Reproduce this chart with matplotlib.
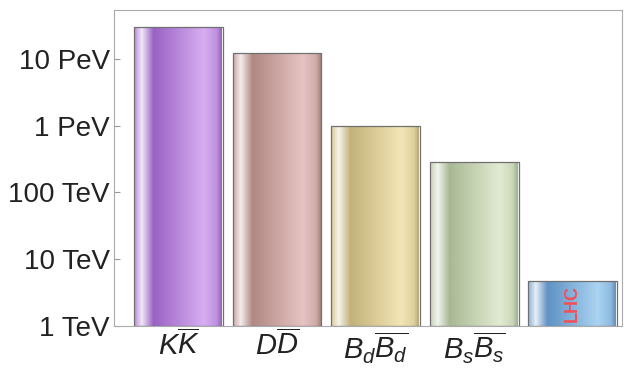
import numpy as np
import matplotlib
matplotlib.use("Agg")
import matplotlib.pyplot as plt
from matplotlib.colors import LinearSegmentedColormap

plt.rcParams['font.family'] = ['Liberation Sans', 'DejaVu Sans']
plt.rcParams['mathtext.fontset'] = 'custom'
plt.rcParams['mathtext.it'] = 'Liberation Sans:italic'
plt.rcParams['mathtext.rm'] = 'Liberation Sans'

# Data (scale in TeV)
labels = [r'$K\overline{K}$', r'$D\overline{D}$', r'$B_d\overline{B_d}$', r'$B_s\overline{B_s}$', '']
scales = [30000, 12300, 1000, 290, 4.8]
ytick_vals = [1, 10, 100, 1000, 10000]
ytick_labels = ['1 TeV', '10 TeV', '100 TeV', '1 PeV', '10 PeV']

# dark / light shades per bar
dark = ['#9a62c4', '#b08883', '#c2b27a', '#a9b894', '#5f93c4']
light = ['#d7aef2', '#e6c4c3', '#f3e6b6', '#e2ebd2', '#abd3f2']

def shade(c1, c2):
    c1 = np.array(matplotlib.colors.to_rgb(c1))
    c2 = np.array(matplotlib.colors.to_rgb(c2))
    w = np.array([1, 1, 1])
    stops = [(0.0, 0.55 * c1 + 0.45 * c2),
             (0.09, 0.15 * c1 + 0.85 * w),
             (0.22, c1),
             (0.5, 0.5 * c1 + 0.5 * c2),
             (0.78, c2),
             (0.92, 0.4 * c1 + 0.6 * c2),
             (1.0, 0.85 * c1)]
    return LinearSegmentedColormap.from_list('g', stops)

fig = plt.figure(figsize=(6.24, 3.69), dpi=100)
ax = fig.add_axes([0.1827, 0.1165, 0.8141, 0.8564])
ax.set_yscale('log')

x = np.arange(len(scales))
width = 0.9
heights = [s - 1 for s in scales]
bars = ax.bar(x, heights, width=width, bottom=1, facecolor='none',
              edgecolor='#707070', linewidth=0.9, zorder=3)

grad = np.linspace(0, 1, 256).reshape(1, -1)
for i, b in enumerate(bars):
    im = ax.imshow(grad, extent=(x[i] - width / 2 - 0.01, x[i] + width / 2 + 0.01, 0.9, scales[i] * 1.1),
                   aspect='auto', cmap=shade(dark[i], light[i]), zorder=2,
                   interpolation='bilinear')
    im.set_clip_path(b)

ax.text(x[4], np.sqrt(scales[4]), 'LHC', rotation=90, color='#f0505a',
        fontsize=13, fontweight='bold', ha='center', va='center', zorder=4)

ax.set_xlim(-0.655, 4.5)
ax.set_ylim(1, 54000)
ax.set_aspect('auto')
ax.set_xticks(x)
ax.set_xticklabels(labels, fontsize=21)
ax.set_yticks(ytick_vals)
ax.set_yticklabels(ytick_labels, fontsize=20)
ax.minorticks_off()
ax.tick_params(axis='both', direction='in', length=4, color='#999999', pad=4)
ax.tick_params(axis='y', labelcolor='#222222', pad=3)
ax.tick_params(axis='x', labelcolor='#222222', pad=3)
for s in ax.spines.values():
    s.set_color('#aaaaaa')

fig.savefig('out.png', dpi=100)
